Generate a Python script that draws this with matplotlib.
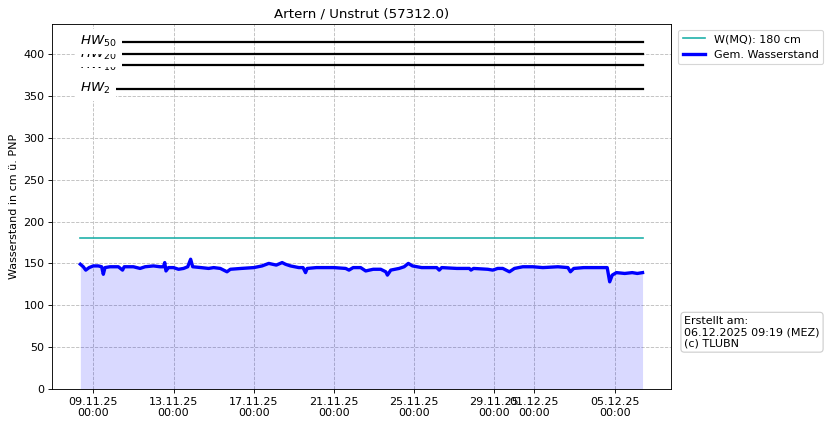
import pandas as pd
import matplotlib
matplotlib.use("Agg")
import matplotlib.pyplot as plt
import matplotlib.dates as mdates

title = "Artern / Unstrut (57312.0)"
created = "Erstellt am:\n06.12.2025 09:19 (MEZ)\n(c) TLUBN"

mq_value = 180
hw_names = ["$HW_{2}$", "$HW_{10}$", "$HW_{20}$", "$HW_{50}$"]
hw_values = [359, 387, 400, 415]

times = [
    "2025-11-08 08:30", "2025-11-08 12:00", "2025-11-08 15:00", "2025-11-08 19:00",
    "2025-11-09 00:00", "2025-11-09 06:00", "2025-11-09 10:00", "2025-11-09 12:00",
    "2025-11-09 14:00", "2025-11-09 20:00", "2025-11-10 06:00", "2025-11-10 11:00",
    "2025-11-10 13:00", "2025-11-11 00:00", "2025-11-11 08:00", "2025-11-11 14:00",
    "2025-11-12 00:00", "2025-11-12 08:00", "2025-11-12 12:00", "2025-11-12 13:30",
    "2025-11-12 15:00", "2025-11-12 18:00", "2025-11-13 00:00", "2025-11-13 06:00",
    "2025-11-13 12:00", "2025-11-13 17:00", "2025-11-13 20:30", "2025-11-13 23:00",
    "2025-11-14 09:00", "2025-11-14 18:00", "2025-11-15 00:00", "2025-11-15 08:00",
    "2025-11-15 16:00", "2025-11-15 20:00", "2025-11-16 09:00", "2025-11-17 00:00",
    "2025-11-17 10:00", "2025-11-17 18:00", "2025-11-18 03:00", "2025-11-18 10:00",
    "2025-11-18 14:00", "2025-11-18 20:00", "2025-11-19 06:00", "2025-11-19 11:00",
    "2025-11-19 14:00", "2025-11-19 16:00", "2025-11-20 03:00", "2025-11-21 00:00",
    "2025-11-21 14:00", "2025-11-21 18:00", "2025-11-21 23:00", "2025-11-22 08:00",
    "2025-11-22 14:00", "2025-11-22 23:00", "2025-11-23 08:00", "2025-11-23 14:00",
    "2025-11-23 16:00", "2025-11-23 20:00", "2025-11-24 06:00", "2025-11-24 12:00",
    "2025-11-24 17:00", "2025-11-24 22:00", "2025-11-25 09:00", "2025-11-26 03:00",
    "2025-11-26 06:00", "2025-11-26 09:00", "2025-11-27 03:00", "2025-11-27 18:00",
    "2025-11-27 20:00", "2025-11-27 23:00", "2025-11-28 16:00", "2025-11-28 22:00",
    "2025-11-29 04:00", "2025-11-29 10:00", "2025-11-29 18:00", "2025-11-30 00:00",
    "2025-11-30 10:00", "2025-11-30 22:00", "2025-12-01 10:00", "2025-12-02 04:00",
    "2025-12-02 16:00", "2025-12-02 19:00", "2025-12-02 23:00", "2025-12-03 11:00",
    "2025-12-04 05:00", "2025-12-04 15:00", "2025-12-04 18:00", "2025-12-04 21:00",
    "2025-12-05 02:00", "2025-12-05 12:00", "2025-12-05 21:00", "2025-12-06 03:00",
    "2025-12-06 09:19",
]
levels = [
    149, 146, 142, 145,
    147, 147, 146, 137,
    145, 146, 146, 142,
    146, 146, 144, 146,
    147, 146, 146, 151,
    141, 145, 145, 143,
    144, 146, 155, 146,
    145, 144, 145, 144,
    140, 143, 144, 145,
    147, 150, 148, 151,
    149, 147, 145, 145,
    139, 144, 145, 145,
    144, 142, 145, 145,
    141, 143, 143, 140,
    136, 142, 144, 146,
    150, 147, 145, 145,
    142, 145, 144, 144,
    142, 144, 143, 142,
    144, 144, 140, 144,
    146, 146, 145, 146,
    145, 140, 144, 145,
    145, 145, 128, 136,
    139, 138, 139, 138,
    139,
]

t = pd.to_datetime(times)

plt.rcParams["font.size"] = 10
fig = plt.figure(figsize=(829 / 80, 426 / 80), dpi=80)
ax = fig.add_axes([0.063, 0.087, 0.746, 0.856])

ax.fill_between(t, 0, levels, color="blue", alpha=0.15, linewidth=0)
ax.plot([t[0], t[-1]], [mq_value, mq_value], color="lightseagreen", lw=1.5,
        label=f"W(MQ): {mq_value} cm")
ax.plot(t, levels, color="blue", lw=3, label="Gem. Wasserstand")

for name, val in zip(hw_names, hw_values):
    ax.plot([t[0], t[-1]], [val, val], color="black", lw=2)
    ax.text(t[0], val, name, fontsize=12, ha="left", va="center",
            bbox=dict(facecolor="white", edgecolor="none", pad=4.5))

ax.set_ylim(0, max(hw_values) * 1.05)
ax.set_yticks(range(0, 401, 50))
ax.xaxis.set_major_locator(mdates.DayLocator(bymonthday=[1, 5, 9, 13, 17, 21, 25, 29]))
ax.xaxis.set_major_formatter(mdates.DateFormatter("%d.%m.%y\n%H:%M"))
ax.grid(True, linestyle="--", color="0.75")
ax.set_axisbelow(True)
ax.set_title(title, fontsize=12)
ax.set_ylabel("Wasserstand in cm ü. PNP")

ax.legend(loc="upper left", bbox_to_anchor=(1.003, 1.0))
ax.text(1.022, 0.11, created, transform=ax.transAxes, va="bottom", ha="left",
        bbox=dict(boxstyle="round", facecolor="white", edgecolor="0.8"))

fig.savefig("out.png", dpi=80)
